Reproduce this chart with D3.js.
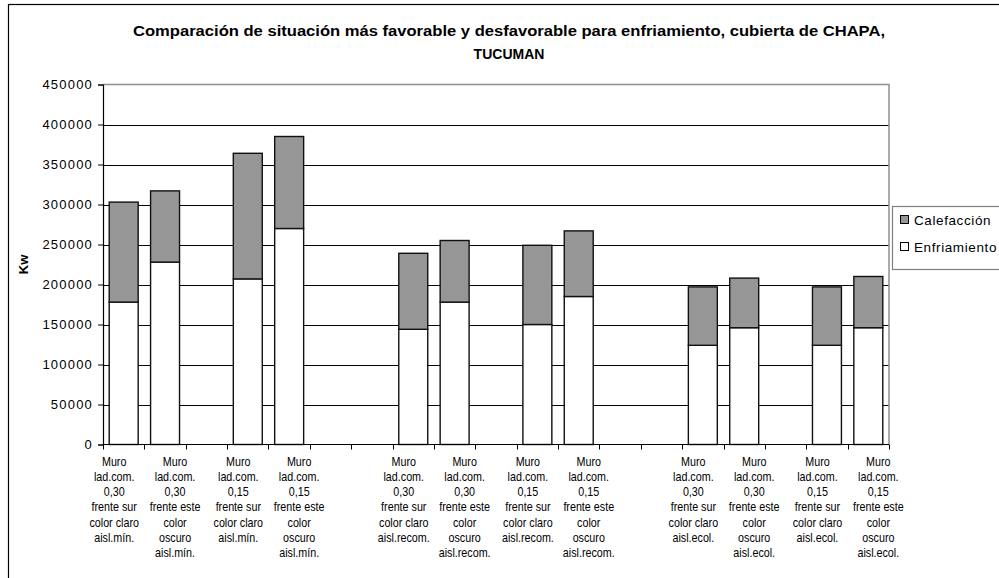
<!DOCTYPE html>
<html>
<head>
<meta charset="utf-8">
<script src="https://cdn.jsdelivr.net/npm/d3@7/dist/d3.min.js"></script>
<style>
  html, body { margin: 0; padding: 0; background: #fff; }
  svg { display: block; font-family: Arial, "Liberation Sans", sans-serif; }
</style>
</head>
<body>
<svg id="chart" width="999" height="578"></svg>
<script>
// Category labels (empty entries are spacer slots between groups)
const categories = [
  ["Muro", "lad.com.", "0,30", "frente sur", "color claro", "aisl.mín."],
  ["Muro", "lad.com.", "0,30", "frente este", "color", "oscuro", "aisl.mín."],
  [],
  ["Muro", "lad.com.", "0,15", "frente sur", "color claro", "aisl.mín."],
  ["Muro", "lad.com.", "0,15", "frente este", "color", "oscuro", "aisl.mín."],
  [],
  [],
  ["Muro", "lad.com.", "0,30", "frente sur", "color claro", "aisl.recom."],
  ["Muro", "lad.com.", "0,30", "frente este", "color", "oscuro", "aisl.recom."],
  [],
  ["Muro", "lad.com.", "0,15", "frente sur", "color claro", "aisl.recom."],
  ["Muro", "lad.com.", "0,15", "frente este", "color", "oscuro", "aisl.recom."],
  [],
  [],
  ["Muro", "lad.com.", "0,30", "frente sur", "color claro", "aisl.ecol."],
  ["Muro", "lad.com.", "0,30", "frente este", "color", "oscuro", "aisl.ecol."],
  [],
  ["Muro", "lad.com.", "0,15", "frente sur", "color claro", "aisl.ecol."],
  ["Muro", "lad.com.", "0,15", "frente este", "color", "oscuro", "aisl.ecol."]
];

// Series values (Kw)
const enfriamiento = [178000, 228000, null, 207000, 270000, null, null, 144000, 178000, null,
                      150000, 185000, null, null, 124000, 146000, null, 124000, 146000];
const calefaccion  = [125000, 89000, null, 157000, 115000, null, null, 95000, 77000, null,
                      99000, 82000, null, null, 73000, 62000, null, 73000, 64000];

const yTicks = [0, 50000, 100000, 150000, 200000, 250000, 300000, 350000, 400000, 450000];

const seriesNames = ["Calefacción", "Enfriamiento"];
const seriesFill = { "Calefacción": "#969696", "Enfriamiento": "#ffffff" };

const titleLines = [
  "Comparación de situación más favorable y desfavorable para enfriamiento, cubierta de CHAPA,",
  "TUCUMAN"
];

const svg = d3.select("#chart");
const W = 999, H = 578;
const plot = { left: 103, right: 889, top: 84.5, bottom: 444.5 };

// outer chart frame
svg.append("rect")
  .attr("x", 8.5).attr("y", 4.5)
  .attr("width", W + 10).attr("height", H + 10)
  .attr("fill", "#fff").attr("stroke", "#000").attr("stroke-width", 1.2);

const x = d3.scaleBand()
  .domain(d3.range(categories.length))
  .range([plot.left, plot.right])
  .paddingInner(0.3)
  .paddingOuter(0.15);

const y = d3.scaleLinear()
  .domain([0, 450000])
  .range([plot.bottom, plot.top]);

// horizontal grid lines
svg.append("g")
  .selectAll("line")
  .data(yTicks.filter(t => t > 0 && t < 450000))
  .join("line")
  .attr("x1", plot.left).attr("x2", plot.right)
  .attr("y1", d => Math.round(y(d)) + 0.5).attr("y2", d => Math.round(y(d)) + 0.5)
  .attr("stroke", "#000").attr("stroke-width", 1);

// plot area border (top and right in gray)
svg.append("path")
  .attr("d", `M${plot.left},${plot.top}H${plot.right}V${plot.bottom}`)
  .attr("fill", "none").attr("stroke", "#909090").attr("stroke-width", 1.5);

// stacked bars
const stackData = categories.map((c, i) => ({
  i,
  "Enfriamiento": enfriamiento[i],
  "Calefacción": calefaccion[i]
})).filter(d => d["Enfriamiento"] != null);

const stacked = d3.stack().keys(["Enfriamiento", "Calefacción"])(stackData);

svg.append("g")
  .selectAll("g")
  .data(stacked)
  .join("g")
  .attr("fill", s => seriesFill[s.key])
  .selectAll("rect")
  .data(s => s)
  .join("rect")
  .attr("x", d => x(d.data.i))
  .attr("width", x.bandwidth())
  .attr("y", d => y(d[1]))
  .attr("height", d => y(d[0]) - y(d[1]))
  .attr("stroke", "#111").attr("stroke-width", 1.4);

// y axis
const yAxis = d3.axisLeft(y).tickValues(yTicks).tickSize(5).tickPadding(5).tickFormat(d3.format("d"));
const gy = svg.append("g").attr("transform", `translate(${plot.left},0)`).call(yAxis);
gy.select(".domain").attr("stroke", "#000").attr("stroke-width", 1.2);
gy.selectAll(".tick line").attr("stroke", "#000");
gy.selectAll(".tick text")
  .attr("font-size", 13).attr("fill", "#000")
  .attr("font-family", "Arial, 'Liberation Sans', sans-serif")
  .style("letter-spacing", "1.2px");

// x axis line and category boundary ticks
svg.append("line")
  .attr("x1", plot.left).attr("x2", plot.right)
  .attr("y1", plot.bottom).attr("y2", plot.bottom)
  .attr("stroke", "#000").attr("stroke-width", 1.2);

const boundaries = d3.range(categories.length + 1).map(k => plot.left + k * x.step());
svg.append("g")
  .selectAll("line")
  .data(boundaries)
  .join("line")
  .attr("x1", d => Math.round(d) + 0.5).attr("x2", d => Math.round(d) + 0.5)
  .attr("y1", plot.bottom).attr("y2", plot.bottom + 5)
  .attr("stroke", "#000");

// category labels: paired bars get their wrapped labels spread apart
const labelG = svg.append("g");
categories.forEach((lines, i) => {
  if (!lines.length) return;
  const firstOfPair = i + 1 < categories.length && categories[i + 1].length > 0;
  const cx = x(i) + x.bandwidth() / 2 + (firstOfPair ? -9.5 : 10);
  const t = labelG.append("text")
    .attr("transform", `translate(${cx},465.5) scale(0.86,1)`)
    .attr("text-anchor", "middle")
    .attr("font-size", 12.5)
    .attr("fill", "#000");
  lines.forEach((ln, k) => {
    t.append("tspan")
      .attr("x", 0)
      .attr("dy", k === 0 ? 0 : 15.3)
      .text(ln);
  });
});

// title
titleLines.forEach((ln, k) => {
  const t = svg.append("text")
    .attr("x", 509).attr("y", 36 + k * 22.5)
    .attr("text-anchor", "middle")
    .attr("font-size", 14).attr("font-weight", "bold")
    .attr("fill", "#000")
    .text(ln);
  if (k === 0) t.attr("textLength", 752).attr("lengthAdjust", "spacingAndGlyphs");
});

// y axis title
svg.append("text")
  .attr("transform", `translate(28,${(plot.top + plot.bottom) / 2}) rotate(-90)`)
  .attr("text-anchor", "middle")
  .attr("font-size", 13).attr("font-weight", "bold")
  .attr("fill", "#000")
  .text("Kw");

// legend
const lg = svg.append("g");
lg.append("rect")
  .attr("x", 892.5).attr("y", 206.5)
  .attr("width", 120).attr("height", 63)
  .attr("fill", "#fff").attr("stroke", "#808080").attr("stroke-width", 1.2);
seriesNames.forEach((name, k) => {
  const cy = 220 + k * 27;
  lg.append("rect")
    .attr("x", 900.5).attr("y", cy - 4.5)
    .attr("width", 8).attr("height", 8)
    .attr("fill", seriesFill[name]).attr("stroke", "#000").attr("stroke-width", 1);
  lg.append("text")
    .attr("x", 914).attr("y", cy + 5)
    .attr("font-size", 13.5).attr("fill", "#000")
    .style("letter-spacing", "0.6px")
    .text(name);
});
</script>
</body>
</html>
